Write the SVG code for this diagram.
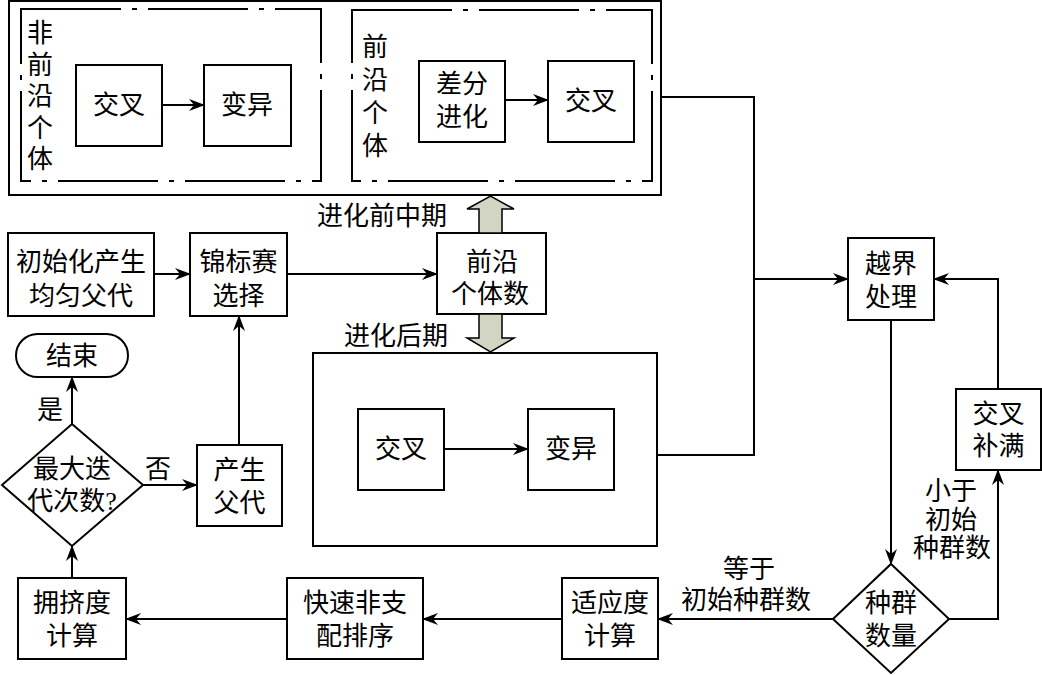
<svg xmlns="http://www.w3.org/2000/svg" width="1042" height="675" viewBox="0 0 1042 675">
<defs>
<marker id="ah" markerWidth="16" markerHeight="12" refX="15" refY="6" orient="auto" markerUnits="userSpaceOnUse">
<path d="M0,0 L16,6 L0,12 L5,6 z" fill="#000"/>
</marker>
<style>
.b{fill:#fff;stroke:#000;stroke-width:2}
.dd{fill:none;stroke:#000;stroke-width:2;stroke-dasharray:100 11 5 11}
.c{fill:none;stroke:#000;stroke-width:2}
.a{fill:none;stroke:#000;stroke-width:2;marker-end:url(#ah)}
text{font-family:"Liberation Serif","Noto Sans CJK SC",serif;font-size:26px;fill:#000;text-anchor:middle;dominant-baseline:central}
.da{fill:#d2d5c2;stroke:#000;stroke-width:1.5}
</style>
</defs>
<rect width="1042" height="675" fill="#fff"/>

<g id="early-group">
<rect class="b" x="9" y="1" width="652" height="194"/>
<rect class="dd" x="21" y="9" width="300" height="172"/>
<rect class="dd" x="352" y="10" width="300" height="171"/>
<text x="40" y="33">非</text><text x="40" y="65">前</text><text x="40" y="96">沿</text><text x="40" y="128">个</text><text x="40" y="159">体</text>
<text x="375" y="47">前</text><text x="375" y="80">沿</text><text x="375" y="113">个</text><text x="375" y="146">体</text>
</g>
<g id="n-jc1"><rect class="b" x="76" y="65" width="86" height="81"/><text x="119" y="105">交叉</text></g>
<g id="n-by1"><rect class="b" x="204" y="65" width="87" height="81"/><text x="247" y="105">变异</text></g>
<g id="n-cf"><rect class="b" x="419" y="61" width="86" height="81"/><text x="462" y="84">差分</text><text x="462" y="117">进化</text></g>
<g id="n-jc2"><rect class="b" x="548" y="61" width="86" height="81"/><text x="591" y="101">交叉</text></g>

<g id="late-group">
<rect class="b" x="313" y="353" width="344" height="193"/>
</g>
<g id="n-jc3"><rect class="b" x="358" y="409" width="86" height="81"/><text x="401" y="449">交叉</text></g>
<g id="n-by3"><rect class="b" x="528" y="409" width="86" height="81"/><text x="571" y="449">变异</text></g>

<g id="n-init"><rect class="b" x="8" y="233" width="146" height="83"/><text x="81" y="262">初始化产生</text><text x="81" y="296">均匀父代</text></g>
<g id="n-tour"><rect class="b" x="190" y="233" width="97" height="83"/><text x="238.5" y="262">锦标赛</text><text x="238.5" y="296">选择</text></g>
<g id="n-qy"><rect class="b" x="437" y="233" width="109" height="81"/><text x="492" y="262">前沿</text><text x="490" y="294">个体数</text></g>
<g id="n-end"><rect class="b" x="16" y="334" width="112" height="43" rx="21.5"/><text x="72" y="356">结束</text></g>
<g id="n-max"><polygon class="b" points="72,424 143,485 72,546 2,485"/><text x="72" y="469">最大迭</text><text x="72" y="501">代次数?</text></g>
<g id="n-parent"><rect class="b" x="197" y="445" width="85" height="81"/><text x="239.5" y="470">产生</text><text x="239.5" y="503">父代</text></g>
<g id="n-crowd"><rect class="b" x="18" y="578" width="108" height="81"/><text x="72" y="603">拥挤度</text><text x="72" y="636">计算</text></g>
<g id="n-sort"><rect class="b" x="287" y="578" width="136" height="81"/><text x="355" y="603">快速非支</text><text x="355" y="636">配排序</text></g>
<g id="n-fit"><rect class="b" x="562" y="578" width="96" height="81"/><text x="610" y="603">适应度</text><text x="610" y="636">计算</text></g>
<g id="n-bound"><rect class="b" x="848" y="238" width="86" height="82"/><text x="891" y="264">越界</text><text x="891" y="297">处理</text></g>
<g id="n-fill"><rect class="b" x="956" y="389" width="85" height="81"/><text x="998.5" y="414">交叉</text><text x="998.5" y="446">补满</text></g>
<g id="n-pop"><polygon class="b" points="891,564 949,619 891,673 833,619"/><text x="891" y="603">种群</text><text x="891" y="636">数量</text></g>

<g id="connectors">
<line class="a" x1="162" y1="105" x2="204" y2="105"/>
<line class="a" x1="505" y1="100" x2="548" y2="100"/>
<line class="a" x1="444" y1="449" x2="528" y2="449"/>
<line class="a" x1="154" y1="274" x2="190" y2="274"/>
<line class="a" x1="287" y1="274" x2="437" y2="274"/>
<line class="a" x1="239" y1="445" x2="239" y2="316"/>
<line class="a" x1="143" y1="485" x2="197" y2="485"/>
<line class="a" x1="72" y1="424" x2="72" y2="377"/>
<line class="a" x1="72" y1="578" x2="72" y2="546"/>
<line class="a" x1="287" y1="619" x2="126" y2="619"/>
<line class="a" x1="562" y1="619" x2="423" y2="619"/>
<line class="a" x1="833" y1="619" x2="658" y2="619"/>
<polyline class="a" points="949,619 998,619 998,470"/>
<polyline class="a" points="998,389 998,279 934,279"/>
<line class="a" x1="891" y1="320" x2="891" y2="564"/>
<polyline class="c" points="661,97 754,97 754,455 657,455"/>
<line class="a" x1="754" y1="279" x2="848" y2="279"/>
<polygon class="da" points="479,233 479,209 467,209 490.5,196 514,209 502,209 502,233"/>
<polygon class="da" points="479,314 479,338 467,338 490.5,352 514,338 502,338 502,314"/>
</g>

<g id="labels">
<text x="382" y="216">进化前中期</text>
<text x="396" y="336">进化后期</text>
<text x="50" y="410">是</text>
<text x="158" y="469">否</text>
<text x="749" y="569">等于</text>
<text x="746" y="600">初始种群数</text>
<text x="951" y="491">小于</text>
<text x="951" y="520">初始</text>
<text x="952" y="548">种群数</text>
</g>
</svg>
